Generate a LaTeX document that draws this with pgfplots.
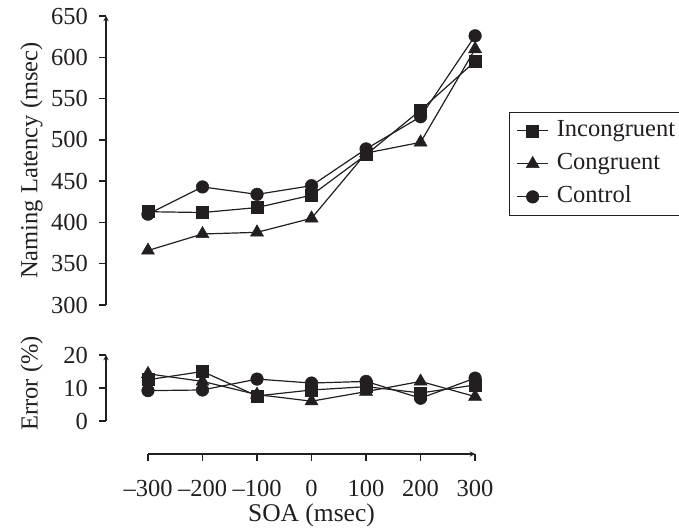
\documentclass[border=0pt]{standalone}
\usepackage{pgfplots}
\pgfplotsset{compat=1.18}
\usepackage{fontspec}
\setmainfont{Liberation Serif}
\definecolor{ink}{HTML}{231F20}
\pgfplotsset{
  common/.style={
    scale only axis,
    clip=false,
    axis line style={-, line width=1.3pt, ink},
    major tick length=7pt,
    every tick/.style={line width=1.3pt, ink},
    tick label style={font=\fontsize{24.5}{28}\selectfont, text=ink},
    label style={font=\fontsize{24.5}{28}\selectfont, text=ink},
    /pgf/number format/assume math mode=true,
    every axis plot/.append style={line width=1.2pt, ink},
  },
  sq/.style={mark=square*, mark size=6pt, mark options={fill=ink, draw=ink, line width=0.5pt}},
  tri/.style={mark=triangle*, mark size=7.5pt, mark options={fill=ink, draw=ink, line width=0.5pt}},
  cir/.style={mark=*, mark size=6.3pt, mark options={fill=ink, draw=ink, line width=0.5pt}},
}
\begin{document}
\begin{tikzpicture}[x=1pt,y=1pt]
\path[use as bounding box, clip] (0,0) rectangle (679,527);
% Upper panel: naming latency
\begin{axis}[common,
  at={(106pt,222pt)}, anchor=south west,
  width=380pt, height=289pt,
  xmin=-377, xmax=320, ymin=300, ymax=650,
  axis y line=left, axis x line=none,
  ytick align=outside, ytick pos=left,
  ytick={300,350,400,450,500,550,600,650},
  yticklabel style={inner sep=0pt, xshift=-11pt},
  ylabel={Naming Latency (msec)},
  ylabel style={at={(axis description cs:-0.166,0.5)}, anchor=south, rotate=0, inner sep=0pt},
  legend style={at={(rel axis cs:1.0605,0.308)}, anchor=south west,
    draw=ink, line width=1.2pt, inner xsep=7pt, inner ysep=7pt,
    font=\fontsize{24.5}{28}\selectfont, text=ink,
    row sep=10pt,
    nodes={inner sep=0pt, text height=17pt, text depth=6pt},
    /tikz/every odd column/.append style={column sep=8pt}},
  legend cell align=left,
  legend image code/.code={\draw[mark repeat=2,mark phase=2] plot coordinates {(0pt,0pt) (15.5pt,0pt) (31pt,0pt)};},
]
\addplot[sq] coordinates {(-300,413) (-200,412) (-100,418) (0,433) (100,482) (200,536) (300,595)};
\addlegendentry{Incongruent}
\addplot[tri] coordinates {(-300,366) (-200,386) (-100,388) (0,405) (100,484) (200,497) (300,610)};
\addlegendentry{Congruent}
\addplot[cir] coordinates {(-300,410) (-200,443) (-100,434) (0,444.5) (100,489) (200,528) (300,626)};
\addlegendentry{Control}
\end{axis}
% Lower panel: error rate
\begin{axis}[common,
  at={(106pt,106pt)}, anchor=south west,
  width=380pt, height=66pt,
  xmin=-377, xmax=320, ymin=0, ymax=20,
  axis y line=left, axis x line=none,
  ytick align=outside, ytick pos=left,
  ytick={0,10,20},
  yticklabel style={inner sep=0pt, xshift=-11pt},
  ylabel={Error (\%)},
  ylabel style={at={(axis description cs:-0.166,0.57)}, anchor=south, rotate=0, inner sep=0pt},
]
\addplot[sq] coordinates {(-300,12.5) (-200,15) (-100,7.6) (0,9.4) (100,10.4) (200,8.5) (300,10.9)};
\addplot[tri] coordinates {(-300,14.3) (-200,12) (-100,8) (0,6) (100,8.9) (200,12) (300,7.4)};
\addplot[cir] coordinates {(-300,9.2) (-200,9.4) (-100,12.7) (0,11.5) (100,12) (200,6.9) (300,13)};
\end{axis}
% Detached x axis
\begin{axis}[common,
  at={(148pt,73pt)}, anchor=south west,
  width=327pt, height=1pt,
  xmin=-300, xmax=300, ymin=0, ymax=1,
  axis x line=bottom, axis y line=none,
  xtick align=outside, xtick pos=bottom,
  xtick={-300,-200,-100,0,100,200,300},
  xticklabels={--300,--200,--100,0,100,200,300},
  xticklabel style={inner sep=0pt, yshift=-19pt},
  xlabel={SOA (msec)},
  xlabel style={inner sep=0pt, yshift=-7pt, font=\fontsize{25.5}{29}\selectfont},
]
\end{axis}
\end{tikzpicture}
\end{document}
